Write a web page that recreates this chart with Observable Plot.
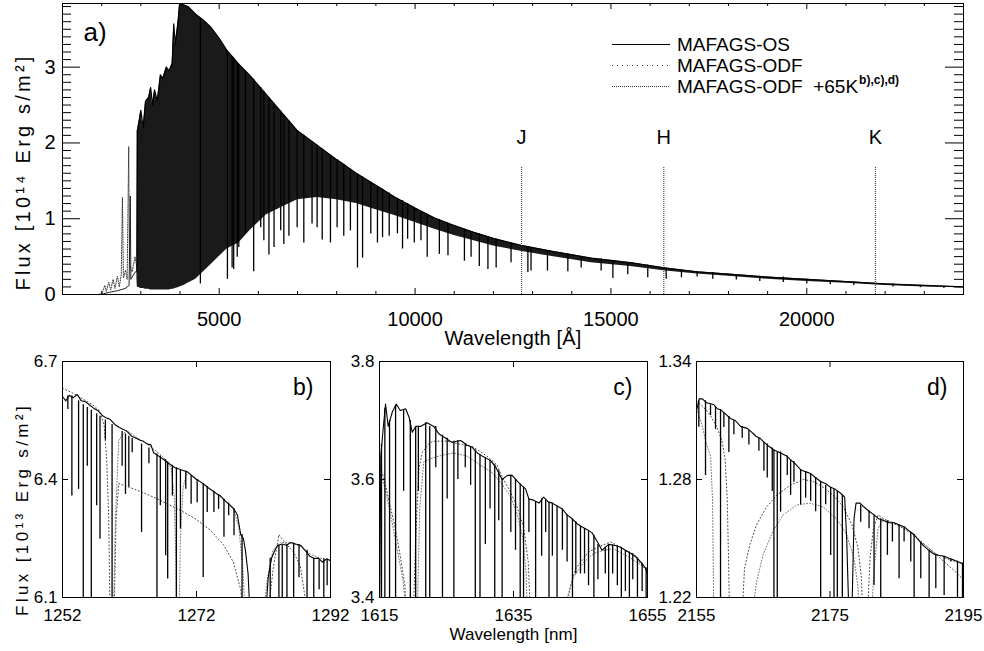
<!DOCTYPE html>
<html><head><meta charset="utf-8">
<script src="https://cdn.jsdelivr.net/npm/d3@7"></script>
<script src="https://cdn.jsdelivr.net/npm/@observablehq/plot@0.6"></script>
<style>
body{margin:0;background:#fff;}
#wrap{position:relative;width:984px;height:651px;background:#fff;overflow:hidden;font-family:"Liberation Sans",Arial,Helvetica,sans-serif;}
.panel{position:absolute;}
.panel svg{overflow:visible;background:transparent;}
#legend{position:absolute;left:612px;top:34px;font-size:19px;color:#000;line-height:21px;}
#legend .row{display:flex;align-items:center;height:21px;white-space:pre;}
#legend svg{margin-right:7px;display:block;}
#legend .sup{font-size:12px;font-weight:bold;position:relative;top:-6px;margin-left:1px;}
</style></head><body>
<div id="wrap"></div>
<script>
// ---------------- DATA ----------------
// Panel a) : overview spectrum, wavelength in Angstrom, flux in 1e14
const topWl = [2900,2910,2960,3000,3060,3120,3200,3250,3300,3350,3420,3500,3560,3650,3720,3800,3840,3880,3950,3990,4100,4200,4400,4600,4800,5000,5200,5500,5800,6200,6600,7000,7500,8000,8500,9000,9500,10000,10500,11000,11500,12000,12700,13500,14500,15500,16400,17200,18000,19000,20000,21000,22000,23000,24000];
const topHi = [0.3,2.16,2.3,2.43,2.2,2.55,2.6,2.73,2.5,2.7,2.55,2.9,2.85,3.0,2.95,3.05,3.57,3.3,3.6,3.84,3.82,3.8,3.7,3.62,3.52,3.38,3.22,3.04,2.88,2.64,2.4,2.16,1.97,1.78,1.6,1.44,1.28,1.14,1.01,0.91,0.82,0.74,0.65,0.57,0.48,0.42,0.35,0.3,0.27,0.23,0.2,0.17,0.14,0.12,0.1];
const topLo = [0.2,0.1,0.09,0.08,0.08,0.07,0.07,0.06,0.06,0.06,0.06,0.06,0.06,0.06,0.06,0.07,0.07,0.08,0.09,0.1,0.12,0.15,0.2,0.3,0.4,0.5,0.6,0.68,0.85,1.05,1.15,1.25,1.28,1.25,1.2,1.12,1.04,0.95,0.86,0.78,0.71,0.64,0.57,0.5,0.42,0.37,0.31,0.27,0.24,0.2,0.17,0.15,0.12,0.1,0.09];
// deep absorption lines in panel a): [wavelength, bottom flux, top flux]
const topLines = [[4520,0.14,3.64],[5210,0.2,3.21],[5330,0.35,3.14],[5370,0.33,3.12],[5460,0.49,3.06],[5500,0.62,3.04],[5670,0.8,2.95],[5880,0.3,2.84],[6060,0.88,2.73],[6140,0.71,2.68],[6270,0.52,2.6],[6400,0.62,2.52],[6570,0.84,2.42],[6650,0.66,2.37],[6780,0.77,2.29],[6990,0.88,2.16],[7160,0.68,2.1],[7370,0.93,2.02],[7500,0.88,1.97],[7630,0.72,1.92],[7840,0.68,1.84],[8010,0.88,1.78],[8180,0.77,1.72],[8350,0.84,1.65],[8530,0.35,1.59],[8660,0.48,1.55],[8870,0.8,1.48],[9040,0.68,1.43],[9170,0.75,1.39],[9340,0.77,1.34],[9550,0.8,1.27],[9680,0.6,1.24],[9810,0.73,1.2],[9980,0.68,1.15],[10150,0.71,1.1],[10310,0.49,1.06],[10620,0.53,0.99],[10840,0.51,0.94],[11260,0.44,0.86],[11430,0.49,0.83],[11640,0.37,0.8],[11860,0.33,0.76],[12070,0.35,0.73],[12450,0.42,0.68],[12880,0.29,0.63],[12960,0.31,0.62],[13380,0.31,0.58],[13900,0.3,0.53],[14240,0.35,0.5],[14750,0.31,0.47],[15050,0.21,0.45],[15430,0.26,0.42],[15940,0.22,0.39],[16410,0.2,0.35],[16800,0.22,0.32],[17200,0.23,0.3],[17600,0.2,0.29],[18200,0.19,0.26],[18800,0.17,0.24],[19400,0.16,0.23],[20000,0.14,0.2],[20600,0.13,0.18],[21200,0.12,0.165],[22200,0.1,0.14],[22900,0.09,0.12],[23500,0.08,0.11]];
const uvOs = [[1900,0],[2050,0.01],[2200,0.03],[2400,0.05],[2600,0.08],[2700,0.12],[2730,1.3],[2745,0.2],[2800,0.25],[2860,0.3],[2900,0.3]];
const uvOdf = [[2000,0.0],[2080,0.12],[2120,0.04],[2180,0.16],[2230,0.06],[2290,0.2],[2340,0.08],[2400,0.24],[2450,0.1],[2500,0.26],[2530,1.28],[2555,0.22],[2610,0.32],[2650,0.2],[2690,1.95],[2710,0.4],[2780,0.3],[2850,0.5],[2900,0.35]];
const bandWl = [12720, 16350, 21750];
const bandName = ["J", "H", "K"];
const topTicksX = [5000, 10000, 15000, 20000];
const topMinorX = [2000,3000,4000,6000,7000,8000,9000,11000,12000,13000,14000,16000,17000,18000,19000,21000,22000,23000];
const topTicksY = [0, 1, 2, 3];

// Panel b) J band (nm, 1e13)
const bTicksX = [1252, 1272, 1292];
const bTicksY = [6.1, 6.4, 6.7];
const bCont = [[1252.0,6.611],[1252.5,6.60],[1253.0,6.614],[1253.6,6.608],[1254.2,6.616],[1254.8,6.60],[1255.4,6.598],[1256.0,6.59],[1256.6,6.582],[1257.3,6.575],[1258.0,6.562],[1258.6,6.556],[1259.1,6.553],[1259.8,6.54],[1260.5,6.532],[1261.0,6.528],[1261.6,6.523],[1262.3,6.51],[1263.0,6.505],[1263.6,6.50],[1264.1,6.497],[1264.7,6.49],[1265.2,6.488],[1265.6,6.468],[1266.3,6.46],[1267.0,6.452],[1267.6,6.444],[1268.1,6.438],[1268.8,6.43],[1269.5,6.426],[1270.0,6.423],[1270.6,6.42],[1271.3,6.41],[1272.0,6.40],[1272.6,6.394],[1273.1,6.388],[1273.8,6.378],[1274.5,6.37],[1275.0,6.364],[1275.6,6.358],[1276.3,6.345],[1277.0,6.335],[1277.6,6.325],[1278.1,6.31],[1278.6,6.26],[1279.0,6.25],[1279.3,6.22],[1279.7,6.16],[1280.0,6.05],[1282.3,6.05],[1282.7,6.15],[1283.2,6.2],[1283.7,6.22],[1284.1,6.232],[1284.8,6.236],[1285.4,6.233],[1286.1,6.24],[1286.8,6.236],[1287.6,6.232],[1288.2,6.22],[1288.9,6.205],[1289.6,6.199],[1290.2,6.2],[1290.8,6.19],[1291.4,6.198],[1292.0,6.194]];
const bLines = [[1252.8,6.612,6.578],[1253.4,6.612,6.358],[1254.4,6.60,6.375],[1255.1,6.59,6.05],[1255.7,6.583,6.434],[1256.3,6.576,6.05],[1257.1,6.567,6.333],[1257.6,6.561,6.248],[1258.4,6.551,6.50],[1259.4,6.54,6.05],[1260.9,6.522,6.434],[1261.4,6.516,6.362],[1261.9,6.51,6.38],[1262.4,6.504,6.468],[1263.8,6.49,6.265],[1264.9,6.48,6.44],[1266.1,6.465,6.05],[1266.6,6.46,6.333],[1267.4,6.45,6.206],[1267.7,6.445,6.147],[1268.4,6.436,6.358],[1269.0,6.43,6.05],[1269.6,6.425,6.274],[1270.4,6.42,6.375],[1271.2,6.41,6.337],[1272.1,6.40,6.341],[1273.0,6.388,6.151],[1273.6,6.382,6.316],[1274.6,6.37,6.316],[1275.3,6.36,6.324],[1276.1,6.35,6.253],[1276.8,6.34,6.308],[1277.6,6.325,6.257],[1278.8,6.26,6.05],[1283.0,6.2,6.05],[1284.3,6.232,6.05],[1284.8,6.232,6.05],[1285.5,6.235,6.05],[1286.5,6.238,6.05],[1287.3,6.235,6.15],[1288.5,6.22,6.05],[1289.5,6.2,6.05],[1290.3,6.196,6.12],[1291.0,6.198,6.05],[1291.5,6.198,6.13]];
const bOdf = [
  [[1252,6.632],[1253.5,6.62],[1255,6.605],[1256.5,6.59],[1257.5,6.575],[1258.2,6.54],[1258.6,6.45],[1258.9,6.3],[1259.1,6.05],[1259.7,6.05],[1260.0,6.3],[1260.4,6.39],[1262,6.38],[1264,6.367],[1266,6.352],[1268,6.335],[1270,6.318],[1272,6.298],[1274,6.272],[1276,6.235],[1277.5,6.19],[1278.6,6.12],[1279.0,6.05]],
  [[1282.6,6.05],[1283.5,6.18],[1284.3,6.26],[1285.2,6.24],[1286.5,6.215],[1287.5,6.18],[1288.2,6.1],[1288.5,6.05]]
];
const bOdf65 = [
  [[1259.6,6.05],[1259.9,6.3],[1260.4,6.5],[1261.5,6.525],[1263,6.508],[1265,6.485],[1267,6.458],[1268.2,6.43],[1268.7,6.35],[1268.9,6.2],[1269.0,6.05],[1269.4,6.05],[1269.6,6.25],[1270.0,6.38],[1270.6,6.42],[1272,6.402],[1274,6.377],[1276,6.35],[1277.5,6.325],[1278.3,6.28],[1278.9,6.18],[1279.3,6.05]],
  [[1281.9,6.05],[1282.6,6.15],[1283.4,6.22],[1284.5,6.24],[1286,6.24],[1287.5,6.23],[1289,6.21],[1290.5,6.2],[1292,6.195]]
];

// Panel c) H band
const cTicksX = [1615, 1635, 1655];
const cTicksY = [3.4, 3.6, 3.8];
const cCont = [[1615.0,3.35],[1615.2,3.64],[1615.5,3.68],[1615.9,3.728],[1616.3,3.69],[1616.9,3.714],[1617.5,3.728],[1618.1,3.717],[1618.9,3.72],[1619.4,3.706],[1619.9,3.68],[1620.4,3.69],[1621.1,3.69],[1622.1,3.696],[1623.1,3.69],[1623.9,3.677],[1624.9,3.67],[1625.8,3.663],[1627.1,3.666],[1628.1,3.658],[1628.8,3.655],[1629.6,3.645],[1630.3,3.64],[1631.6,3.632],[1632.4,3.62],[1633.3,3.60],[1634.1,3.607],[1634.8,3.607],[1635.5,3.598],[1636.2,3.59],[1636.8,3.584],[1637.3,3.567],[1638.0,3.565],[1638.8,3.56],[1639.5,3.57],[1640.2,3.562],[1640.8,3.56],[1641.5,3.555],[1642.3,3.55],[1643.0,3.54],[1643.8,3.533],[1644.5,3.525],[1645.2,3.52],[1646.0,3.515],[1646.7,3.51],[1647.5,3.495],[1648.2,3.48],[1648.7,3.485],[1649.2,3.49],[1650.2,3.488],[1651.0,3.485],[1651.7,3.48],[1652.5,3.475],[1653.2,3.47],[1654.0,3.46],[1654.7,3.45],[1655,3.44]];
const cLines = [[1615.3,3.66,3.35],[1615.8,3.72,3.35],[1616.5,3.70,3.35],[1617.4,3.725,3.35],[1618.6,3.717,3.58],[1619.6,3.70,3.35],[1620.4,3.69,3.35],[1620.8,3.69,3.58],[1621.9,3.696,3.35],[1622.5,3.69,3.35],[1623.4,3.69,3.62],[1624.4,3.675,3.35],[1625.1,3.67,3.567],[1626.1,3.665,3.35],[1626.7,3.666,3.60],[1627.8,3.66,3.62],[1628.6,3.656,3.59],[1629.3,3.65,3.35],[1630.0,3.642,3.35],[1630.8,3.637,3.49],[1631.5,3.632,3.55],[1632.2,3.625,3.35],[1632.8,3.615,3.53],[1633.3,3.60,3.35],[1634.6,3.607,3.51],[1635.3,3.60,3.48],[1636.0,3.592,3.35],[1636.5,3.587,3.35],[1637.3,3.567,3.51],[1638.3,3.562,3.35],[1639.2,3.567,3.47],[1639.8,3.565,3.51],[1640.3,3.562,3.35],[1640.8,3.56,3.47],[1641.5,3.555,3.35],[1642.3,3.55,3.48],[1643.0,3.54,3.46],[1643.8,3.533,3.35],[1644.3,3.528,3.44],[1645.0,3.52,3.44],[1645.6,3.517,3.44],[1646.2,3.513,3.42],[1647.0,3.505,3.35],[1647.6,3.49,3.43],[1648.7,3.485,3.44],[1649.2,3.49,3.35],[1649.8,3.489,3.44],[1650.5,3.487,3.42],[1651.1,3.485,3.35],[1651.7,3.48,3.41],[1652.3,3.477,3.35],[1652.8,3.474,3.43],[1653.5,3.467,3.35],[1654.2,3.458,3.41],[1654.8,3.45,3.35]];
const cOdf = [
  [[1615,3.625],[1615.7,3.6],[1616.5,3.56],[1617.3,3.52],[1618.1,3.47],[1618.8,3.42],[1619.0,3.35],[1620.0,3.35],[1620.4,3.5],[1620.9,3.62],[1621.4,3.646],[1622.3,3.66],[1623,3.665],[1625,3.665],[1627,3.66],[1629,3.655],[1631,3.64],[1632.5,3.625],[1633.5,3.60],[1634.5,3.58],[1635.5,3.555],[1636.5,3.52],[1637.2,3.46],[1637.6,3.35]],
  [[1642.5,3.35],[1643.5,3.42],[1644.3,3.449],[1646.2,3.477],[1647.7,3.486],[1649.5,3.494],[1651,3.485],[1653,3.47],[1655,3.445]]
];
const cOdf65 = [
  [[1615.5,3.60],[1616.5,3.55],[1617.5,3.49],[1618.5,3.43],[1619.2,3.35],[1620.6,3.35],[1621,3.55],[1621.6,3.63],[1622.5,3.635],[1624,3.64],[1626,3.645],[1628,3.64],[1630,3.625],[1632,3.61],[1633.4,3.59],[1634.6,3.57],[1635.6,3.54],[1636.4,3.50],[1636.9,3.44],[1637.1,3.35]],
  [[1642.2,3.35],[1643,3.4],[1644,3.435],[1645.5,3.46],[1647,3.475],[1648.5,3.48],[1650,3.482],[1652,3.47],[1654,3.455],[1655,3.445]]
];

// Panel d) K band
const dTicksX = [2155, 2175, 2195];
const dTicksY = [1.22, 1.28, 1.34];
const dCont = [[2155,1.315],[2155.4,1.321],[2155.9,1.321],[2156.5,1.319],[2157.1,1.3185],[2157.6,1.318],[2158.1,1.316],[2158.6,1.3155],[2159.1,1.314],[2160.1,1.311],[2160.8,1.31],[2161.6,1.307],[2162.6,1.306],[2163.3,1.304],[2163.9,1.302],[2164.5,1.301],[2165.1,1.299],[2165.8,1.297],[2166.6,1.295],[2167.3,1.294],[2167.9,1.293],[2168.5,1.292],[2169.1,1.29],[2169.8,1.288],[2170.6,1.285],[2171.3,1.284],[2172.1,1.283],[2172.8,1.281],[2173.6,1.279],[2174.3,1.278],[2175.1,1.276],[2175.8,1.275],[2176.6,1.273],[2177.2,1.271],[2177.5,1.25],[2177.8,1.215],[2178.3,1.215],[2178.6,1.26],[2178.9,1.268],[2179.5,1.268],[2180.1,1.266],[2180.8,1.264],[2181.6,1.262],[2182.3,1.26],[2183.1,1.259],[2183.8,1.258],[2184.6,1.258],[2185.3,1.257],[2186.1,1.256],[2186.8,1.254],[2187.6,1.252],[2188.3,1.249],[2189.1,1.246],[2189.8,1.244],[2190.6,1.242],[2191.3,1.2415],[2192.1,1.241],[2192.8,1.24],[2193.6,1.239],[2194.3,1.238],[2195,1.237]];
const dLines = [[2155.35,1.32,1.3066],[2156.35,1.32,1.282],[2157.1,1.318,1.3125],[2157.85,1.317,1.3055],[2158.6,1.3155,1.21],[2159.1,1.314,1.3065],[2159.85,1.312,1.2937],[2160.6,1.31,1.3027],[2161.85,1.307,1.301],[2162.85,1.305,1.2975],[2163.6,1.303,1.3027],[2164.35,1.301,1.2944],[2165.1,1.299,1.2842],[2165.6,1.298,1.2807],[2166.35,1.296,1.2739],[2166.6,1.295,1.21],[2167.1,1.294,1.21],[2167.6,1.294,1.2634],[2168.6,1.292,1.282],[2169.1,1.29,1.2719],[2169.6,1.289,1.2786],[2170.6,1.285,1.2671],[2171.35,1.284,1.2705],[2172.1,1.283,1.2688],[2172.85,1.281,1.2636],[2173.6,1.279,1.21],[2174.35,1.277,1.2671],[2175.1,1.276,1.2413],[2175.6,1.275,1.21],[2176.1,1.274,1.21],[2176.85,1.272,1.21],[2179.6,1.267,1.2583],[2180.85,1.264,1.2549],[2181.6,1.262,1.2261],[2182.6,1.26,1.21],[2183.6,1.259,1.2414],[2184.35,1.258,1.2482],[2185.35,1.257,1.2295],[2186.1,1.256,1.2482],[2187.1,1.253,1.238],[2187.6,1.252,1.21],[2188.6,1.248,1.2295],[2189.85,1.244,1.21],[2190.85,1.242,1.2244],[2192.1,1.241,1.221],[2193.1,1.2395,1.238],[2194.1,1.2385,1.21],[2194.85,1.2375,1.21]];
const dOdf = [
  [[2155,1.32],[2156,1.317],[2157,1.313],[2158,1.307],[2158.8,1.30],[2159.3,1.29],[2159.6,1.27],[2159.8,1.24],[2159.95,1.21]],
  [[2161.8,1.21],[2162.2,1.235],[2163,1.247],[2164,1.257],[2165.5,1.266],[2167,1.272],[2169,1.277],[2171,1.28],[2172.5,1.279],[2174,1.276],[2175.5,1.272],[2177,1.266],[2178.3,1.257],[2179.2,1.245],[2179.7,1.23],[2179.9,1.21]],
  [[2180.6,1.21],[2181.0,1.24],[2181.5,1.255],[2182.2,1.262],[2183.5,1.259],[2185.5,1.256],[2187.5,1.252],[2189.5,1.246],[2191.5,1.24],[2193.5,1.234],[2195,1.229]]
];
const dOdf65 = [
  [[2155,1.316],[2155.8,1.308],[2156.5,1.298],[2157.1,1.292],[2157.4,1.27],[2157.6,1.21]],
  [[2163.3,1.21],[2164,1.228],[2165,1.242],[2166.5,1.254],[2168,1.262],[2170,1.267],[2172,1.268],[2174,1.266],[2176,1.26],[2177.5,1.252],[2178.6,1.24],[2179.2,1.225],[2179.4,1.21]],
  [[2181.2,1.21],[2181.6,1.235],[2182.2,1.255],[2183,1.26],[2185,1.2575],[2187,1.2535],[2189,1.247],[2191,1.242],[2193,1.239],[2195,1.237]]
];

// ---------------- DRAWING ----------------
const FONT = '"Liberation Sans", Arial, Helvetica, sans-serif';
const wrap = document.getElementById("wrap");

function frameTicks(xMaj, xMajLen, xMin, xMinLen, yMaj, yMajLen, yMin, yMinLen, FW, FH) {
  const m = [];
  const addX = (vals, len) => {
    if (!vals.length) return;
    m.push(Plot.tickX(vals, {x: d => d, insetTop: FH - len, stroke: "#000"}));
    m.push(Plot.tickX(vals, {x: d => d, insetBottom: FH - len, stroke: "#000"}));
  };
  const addY = (vals, len) => {
    if (!vals.length) return;
    m.push(Plot.tickY(vals, {y: d => d, insetRight: FW - len, stroke: "#000"}));
    m.push(Plot.tickY(vals, {y: d => d, insetLeft: FW - len, stroke: "#000"}));
  };
  addX(xMaj, xMajLen); addX(xMin, xMinLen); addY(yMaj, yMajLen); addY(yMin, yMinLen);
  return m;
}

// widen a label (IDL fonts are wider) by letter-spacing, measured once in the DOM
function spread(svg, prefix, target) {
  d3.select(svg).selectAll("text")
    .filter(function() { return this.textContent.startsWith(prefix); })
    .each(function() {
      const n = this.getNumberOfChars();
      const len = this.getComputedTextLength();
      if (n > 1 && len > 0) this.setAttribute("letter-spacing", ((target - len) / n).toFixed(2));
    });
}

function place(el, left, top) {
  const div = document.createElement("div");
  div.className = "panel";
  div.style.left = left + "px"; div.style.top = top + "px";
  div.appendChild(el);
  wrap.appendChild(div);
  return div;
}

// ---- Panel a ----
{
  const W = 984, H = 345, ML = 62, MR = 21, MT = 3, MB = 51;
  const FW = W - ML - MR, FH = H - MT - MB;
  const rows = topWl.map((w, i) => ({w, hi: topHi[i], lo: topLo[i]}));
  const minorY = d3.range(1, 39).map(i => i / 10).filter(v => Math.abs(v - Math.round(v)) > 1e-6);
  const svg = Plot.plot({
    width: W, height: H, marginLeft: ML, marginRight: MR, marginTop: MT, marginBottom: MB,
    x: {domain: [1000, 24000]},
    y: {domain: [0, 3.84]},
    style: {fontFamily: FONT, fontSize: "20px", color: "#000", background: "transparent", overflow: "visible"},
    marks: [
      Plot.line(uvOdf, {x: d => d[0], y: d => d[1], stroke: "#333", strokeWidth: 1, strokeDasharray: "1,1.5"}),
      Plot.line(uvOs, {x: d => d[0], y: d => d[1], stroke: "#222", strokeWidth: 1}),
      Plot.areaY(rows, {x: "w", y1: "lo", y2: "hi", fill: "#1a1a1a"}),
      Plot.line(rows, {x: "w", y: "hi", stroke: "#000", strokeWidth: 1.2}),
      Plot.ruleX(topLines, {x: d => d[0], y1: d => d[1], y2: d => d[2], stroke: "#000", strokeWidth: 1.3}),
      Plot.ruleX(bandWl, {x: d => d, y1: 0, y2: 1.69, stroke: "#222", strokeWidth: 1, strokeDasharray: "1,1"}),
      Plot.text(bandWl, {x: d => d, y: 2.07, text: (d, i) => bandName[i], fontSize: 20}),
      ...frameTicks(topTicksX, 6, topMinorX, 3, topTicksY, 18, minorY, 9, FW, FH),
      Plot.frame({stroke: "#000"}),
      Plot.axisX({ticks: topTicksX, tickSize: 0, tickPadding: 17, tickFormat: d => String(d), label: null, fontSize: 20}),
      Plot.axisY({ticks: topTicksY, tickSize: 0, tickPadding: 7, tickFormat: d => String(d), label: null, fontSize: 20}),
      Plot.text(["a)"], {frameAnchor: "top-left", dx: 21, dy: 29, textAnchor: "start", lineAnchor: "middle", fontSize: 26}),
      Plot.text(["Wavelength [Å]"], {frameAnchor: "bottom", dy: 44, textAnchor: "middle", lineAnchor: "middle", fontSize: 20}),
      Plot.text(["Flux [10¹⁴ Erg s/m²]"], {frameAnchor: "left", dx: -39, dy: 23, rotate: -90, textAnchor: "middle", lineAnchor: "middle", fontSize: 20})
    ]
  });
  place(svg, 0, 0);
  spread(svg, "Flux", 237);
  spread(svg, "Wavelength", 137);
}

// ---- Legend (overlay inside panel a) ----
{
  const leg = document.createElement("div");
  leg.id = "legend";
  const items = [
    {dash: null, label: "MAFAGS-OS"},
    {dash: "1,4", label: "MAFAGS-ODF"},
    {dash: "1,1", label: "MAFAGS-ODF  +65K", sup: "b),c),d)"}
  ];
  for (const it of items) {
    const row = document.createElement("div");
    row.className = "row";
    const s = d3.create("svg").attr("width", 58).attr("height", 21);
    const ln = s.append("line").attr("x1", 0).attr("x2", 58).attr("y1", 10.5).attr("y2", 10.5)
      .attr("stroke", it.dash ? "#333" : "#000").attr("stroke-width", 1);
    if (it.dash) ln.attr("stroke-dasharray", it.dash);
    row.appendChild(s.node());
    const t = document.createElement("span");
    t.textContent = it.label;
    row.appendChild(t);
    if (it.sup) {
      const sp = document.createElement("span");
      sp.className = "sup"; sp.textContent = it.sup;
      row.appendChild(sp);
    }
    leg.appendChild(row);
  }
  wrap.appendChild(leg);
}

// ---- Bottom panels ----
function segRows(segs) {
  return segs.flatMap((s, k) => s.map(p => ({x: p[0], y: p[1], k})));
}
function panel(cfg) {
  const W = cfg.width, H = 311, MT = 21, MB = 54;
  const FW = W - cfg.ml - cfg.mr, FH = H - MT - MB;
  const marks = [
    Plot.line(segRows(cfg.odf), {x: "x", y: "y", z: "k", stroke: "#444", strokeWidth: 1, strokeDasharray: "1,2.5", clip: true}),
    Plot.line(segRows(cfg.odf65), {x: "x", y: "y", z: "k", stroke: "#777", strokeWidth: 1, strokeDasharray: "1,2", clip: true}),
    Plot.line(cfg.cont, {x: d => d[0], y: d => d[1], stroke: "#000", strokeWidth: 1.1, clip: true}),
    Plot.ruleX(cfg.lines, {x: d => d[0], y1: d => d[2], y2: d => d[1], stroke: "#000", strokeWidth: 1.3, clip: true}),
    ...frameTicks(cfg.tx, 6, [], 0, cfg.ty, 6, [], 0, FW, FH),
    Plot.frame({stroke: "#000"}),
    Plot.axisX({ticks: cfg.tx, tickSize: 0, tickPadding: 11, tickFormat: d => String(d), label: null, fontSize: 17}),
    Plot.axisY({ticks: cfg.ty, tickSize: 0, tickPadding: 5, tickFormat: d => d.toFixed(cfg.dec), label: null, fontSize: 17}),
    Plot.text([cfg.name], {frameAnchor: "top-right", dx: cfg.ndx, dy: 26, textAnchor: "end", lineAnchor: "middle", fontSize: 23})
  ];
  if (cfg.xlabel) marks.push(Plot.text([cfg.xlabel], {frameAnchor: "bottom", dy: 37, textAnchor: "middle", lineAnchor: "middle", fontSize: 17}));
  if (cfg.ylabel) marks.push(Plot.text([cfg.ylabel], {frameAnchor: "left", dx: -40, dy: 30, rotate: -90, textAnchor: "middle", lineAnchor: "middle", fontSize: 17}));
  const svg = Plot.plot({
    width: W, height: H, marginLeft: cfg.ml, marginRight: cfg.mr, marginTop: MT, marginBottom: MB,
    x: {domain: [cfg.tx[0], cfg.tx[2]]},
    y: {domain: [cfg.ty[0], cfg.ty[2]]},
    style: {fontFamily: FONT, fontSize: "17px", color: "#000", background: "transparent", overflow: "visible"},
    marks
  });
  place(svg, cfg.left, 340);
  if (cfg.ylabel) spread(svg, "Flux", 213);
  if (cfg.xlabel) spread(svg, "Wavelength", 128);
}

panel({left: 0, width: 340, ml: 62, mr: 10, tx: bTicksX, ty: bTicksY, dec: 1, cont: bCont, lines: bLines, odf: bOdf, odf65: bOdf65, name: "b)", ndx: -17, ylabel: "Flux [10¹³ Erg s/m²]"});
panel({left: 340, width: 320, ml: 39, mr: 13, tx: cTicksX, ty: cTicksY, dec: 1, cont: cCont, lines: cLines, odf: cOdf, odf65: cOdf65, name: "c)", ndx: -15, xlabel: "Wavelength [nm]"});
panel({left: 660, width: 324, ml: 36, mr: 21, tx: dTicksX, ty: dTicksY, dec: 2, cont: dCont, lines: dLines, odf: dOdf, odf65: dOdf65, name: "d)", ndx: -16});
</script>
</body></html>
